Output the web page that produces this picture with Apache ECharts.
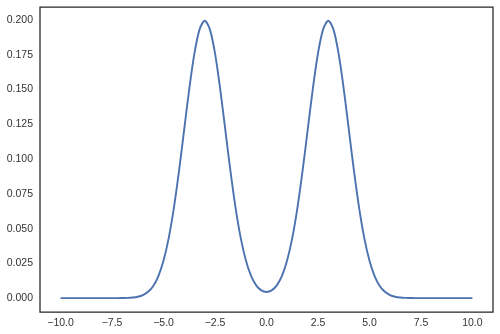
<!DOCTYPE html>
<html><head><meta charset="utf-8">
<script src="https://cdn.jsdelivr.net/npm/echarts@6/dist/echarts.min.js"></script>
<style>html,body{margin:0;padding:0;background:#fff}#c{width:500px;height:334px}</style>
</head><body><div id="c"></div>
<script>
const xValues = [-10,-9.75,-9.5,-9.25,-9,-8.75,-8.5,-8.25,-8,-7.75,-7.5,-7.25,-7,-6.75,-6.5,-6.25,-6,-5.75,-5.5,-5.25,-5,-4.75,-4.5,-4.25,-4,-3.75,-3.5,-3.25,-3,-2.75,-2.5,-2.25,-2,-1.75,-1.5,-1.25,-1,-0.75,-0.5,-0.25,0,0.25,0.5,0.75,1,1.25,1.5,1.75,2,2.25,2.5,2.75,3,3.25,3.5,3.75,4,4.25,4.5,4.75,5,5.25,5.5,5.75,6,6.25,6.5,6.75,7,7.25,7.5,7.75,8,8.25,8.5,8.75,9,9.25,9.5,9.75,10];
const yValues = [0,0,0,0,0,0,0,0,0,0,0,0,0.00007,0.00018,0.00044,0.00101,0.00222,0.00455,0.00876,0.01587,0.02700,0.04314,0.06476,0.09132,0.12099,0.15057,0.17603,0.19333,0.19947,0.19333,0.17603,0.15057,0.12099,0.09132,0.06476,0.04316,0.02707,0.01605,0.00920,0.00556,0.00444,0.00556,0.00920,0.01605,0.02707,0.04316,0.06476,0.09132,0.12099,0.15057,0.17603,0.19333,0.19947,0.19333,0.17603,0.15057,0.12099,0.09132,0.06476,0.04314,0.02700,0.01587,0.00876,0.00455,0.00222,0.00101,0.00044,0.00018,0.00007,0,0,0,0,0,0,0,0,0,0,0,0];
const xTicks = [-10,-7.5,-5,-2.5,0,2.5,5,7.5,10];
const yTicks = [0,0.025,0.05,0.075,0.1,0.125,0.15,0.175,0.2];

const chart = echarts.init(document.getElementById('c'), null, {renderer:'canvas'});
const textStyle = {color:'#333333', fontFamily:'Liberation Sans, Arial, sans-serif', fontSize:10.5};
chart.setOption({
  animation:false,
  grid:{left:40, right:7, top:7, bottom:22, show:true, borderColor:'#262626', borderWidth:1.25, backgroundColor:'#fff'},
  xAxis:{type:'value', min:-11, max:11,
    axisLine:{show:false}, axisTick:{show:false}, splitLine:{show:false},
    axisLabel:Object.assign({customValues:xTicks, margin:6,
      formatter:v=>(v<0?'\u2212':'')+Math.abs(v).toFixed(1)}, textStyle)},
  yAxis:{type:'value', min:-0.00997, max:0.2094,
    axisLine:{show:false}, axisTick:{show:false}, splitLine:{show:false},
    axisLabel:Object.assign({customValues:yTicks, margin:7,
      formatter:v=>v.toFixed(3)}, textStyle)},
  series:[{type:'line', data:xValues.map((x,i)=>[x,yValues[i]]), showSymbol:false, smooth:0.3,
    lineStyle:{color:'#4c72b0', width:1.9}}]
});
</script></body></html>
